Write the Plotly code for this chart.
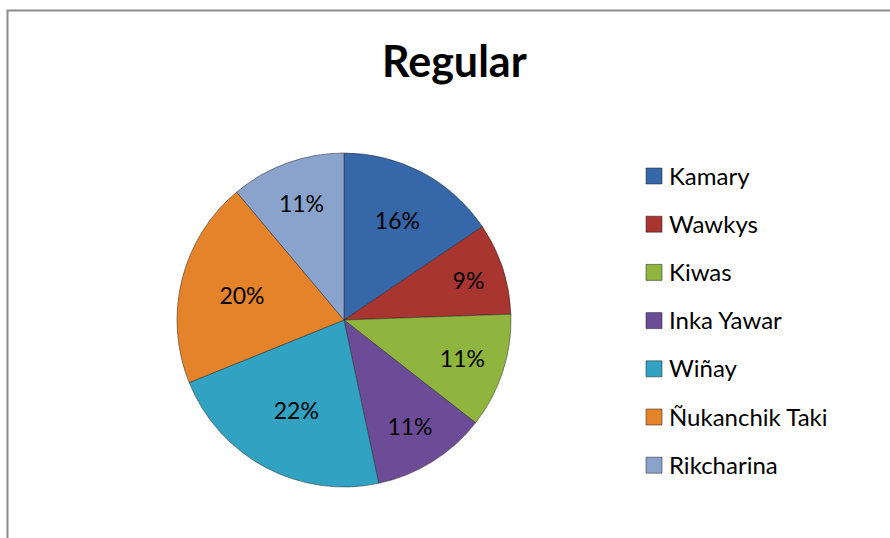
import plotly.graph_objects as go

# ---- data ----
labels = ["Kamary", "Wawkys", "Kiwas", "Inka Yawar", "Wiñay", "Ñukanchik Taki", "Rikcharina"]
counts = [7, 4, 5, 5, 10, 9, 5]
colors = ["#3567A9", "#A8352F", "#8FB53F", "#6C4C97", "#32A2C2", "#E5832B", "#8AA3CD"]
title_text = "Regular"

W, H = 890, 538
FONT = "Lato, 'Open Sans', sans-serif"

def px(x):
    return x / W

def py(y):
    return 1 - y / H

# pie geometry (pixels)
cx, cy, r = 344, 320, 167

fig = go.Figure()
fig.add_trace(go.Pie(
    labels=labels,
    values=counts,
    sort=False,
    direction="clockwise",
    rotation=0,
    marker=dict(colors=colors, line=dict(color="rgba(40,40,40,0.5)", width=1)),
    texttemplate="%{percent:.0%}",
    textposition="inside",
    insidetextorientation="horizontal",
    textfont=dict(family=FONT, size=23, color="#000000"),
    showlegend=False,
    hoverinfo="label+percent",
    domain=dict(x=[px(cx - r), px(cx + r)], y=[py(cy + r), py(cy - r)]),
))

shapes = []
annotations = []

# chart frame (clipped on right/bottom like the reference)
shapes.append(dict(type="rect", xref="paper", yref="paper",
                   x0=px(7.5), x1=px(W + 20), y0=py(H + 20), y1=py(10.5),
                   line=dict(color="#8C8C8C", width=2), fillcolor="rgba(0,0,0,0)", layer="above"))

# title
annotations.append(dict(text="<b>" + title_text + "</b>", xref="paper", yref="paper",
                        x=px(454), y=py(60), xanchor="center", yanchor="middle",
                        showarrow=False, font=dict(family=FONT, size=43, color="#000000")))

# manual legend
leg_x, leg_y0, leg_dy, sq = 646, 176, 48.2, 16
for i, (lab, col) in enumerate(zip(labels, colors)):
    yc = leg_y0 + i * leg_dy
    shapes.append(dict(type="rect", xref="paper", yref="paper",
                       x0=px(leg_x), x1=px(leg_x + sq), y0=py(yc + sq / 2), y1=py(yc - sq / 2),
                       line=dict(color="rgba(30,30,30,0.5)", width=1), fillcolor=col))
    annotations.append(dict(text=lab, xref="paper", yref="paper",
                            x=px(leg_x + sq + 5), y=py(yc - 1), xanchor="left", yanchor="middle",
                            showarrow=False, font=dict(family=FONT, size=24, color="#000000")))

fig.update_layout(
    width=W, height=H,
    margin=dict(l=0, r=0, t=0, b=0),
    paper_bgcolor="#FFFFFF",
    plot_bgcolor="#FFFFFF",
    shapes=shapes,
    annotations=annotations,
)

fig.write_html("out.html",
               config={"displayModeBar": False},
               post_script="document.body.style.margin='0';document.body.style.overflow='hidden';")
